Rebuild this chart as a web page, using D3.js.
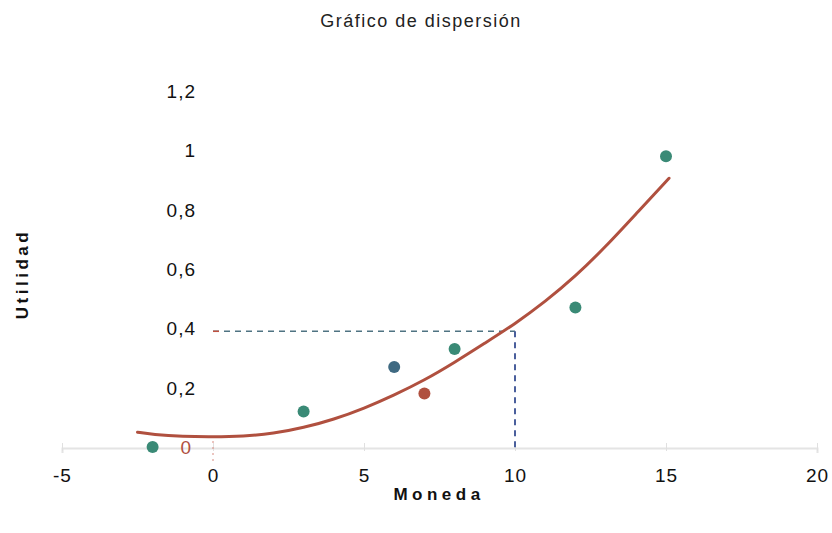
<!DOCTYPE html>
<html>
<head>
<meta charset="utf-8">
<script src="https://cdn.jsdelivr.net/npm/d3@7"></script>
<style>
  body { margin: 0; background: #fff; }
  text { font-family: "Liberation Sans", Arial, sans-serif; }
</style>
</head>
<body>
<div id="chart"></div>
<script>
// scatter points
const pointX = [-2, 3, 6, 7, 8, 12, 15];
const pointY = [0, 0.12, 0.27, 0.18, 0.33, 0.47, 0.98];
const pointColor = ["#3a8a76", "#3a8a76", "#3f6a82", "#b0503f", "#3a8a76", "#3a8a76", "#3a8a76"];

// trend curve
const curveX = [-2.5, -2, -1, 0, 1, 2, 3, 4, 5, 6, 7, 8, 9, 10, 11, 12, 13, 14, 15.1];
const curveY = [0.05, 0.042, 0.035, 0.034, 0.036, 0.045, 0.065, 0.093, 0.13, 0.175, 0.225, 0.285, 0.35, 0.415, 0.49, 0.575, 0.675, 0.785, 0.906];

// reference lines
const refX = 10;
const refY = 0.39;

const xTicks = [-5, 0, 5, 10, 15, 20];
const yTicks = [0, 0.2, 0.4, 0.6, 0.8, 1, 1.2];
const yLabels = ["0", "0,2", "0,4", "0,6", "0,8", "1", "1,2"];

const W = 832, H = 533;
const svg = d3.select("#chart").append("svg")
  .attr("width", W).attr("height", H);

const x = d3.scaleLinear().domain([-5, 20]).range([62, 817]);
const y = d3.scaleLinear().domain([0, 1.2]).range([447, 91]);

// title
svg.append("text")
  .attr("x", 421).attr("y", 27)
  .attr("text-anchor", "middle")
  .style("font-size", "18px")
  .style("letter-spacing", "1.5px")
  .attr("fill", "#222")
  .text("Gráfico de dispersión");

// x axis
const xAxis = svg.append("g")
  .attr("transform", `translate(0,${y(0) + 1})`)
  .call(d3.axisBottom(x).tickValues(xTicks).tickSize(5).tickFormat(d => d));
xAxis.select(".domain").attr("stroke", "#e4e4e4").attr("stroke-width", 2);
xAxis.selectAll(".tick line").attr("stroke", "#e0e0e0").attr("y1", -5).attr("y2", 3);
xAxis.selectAll(".tick text")
  .attr("y", 27).attr("dy", "0.35em")
  .style("font-size", "19px")
  .style("letter-spacing", "1px")
  .attr("fill", "#111");

// y labels (no axis line)
svg.append("g").selectAll("text")
  .data(yTicks)
  .enter().append("text")
  .attr("x", (d, i) => i === 0 ? 192 : 196)
  .attr("y", d => y(d) + 7)
  .attr("text-anchor", "end")
  .style("font-size", "19px")
  .style("letter-spacing", "1px")
  .attr("fill", (d, i) => i === 0 ? "#b0503f" : "#111")
  .text((d, i) => yLabels[i]);

// axis titles
svg.append("text")
  .attr("x", 439).attr("y", 500)
  .attr("text-anchor", "middle")
  .style("font-size", "17px")
  .style("font-weight", "bold")
  .style("letter-spacing", "4.5px")
  .attr("fill", "#111")
  .text("Moneda");

svg.append("text")
  .attr("transform", "translate(28,274) rotate(-90)")
  .attr("text-anchor", "middle")
  .style("font-size", "17px")
  .style("font-weight", "bold")
  .style("letter-spacing", "3.5px")
  .attr("fill", "#111")
  .text("Utilidad");

// faint dotted tick at zero
svg.append("line")
  .attr("x1", x(0)).attr("x2", x(0))
  .attr("y1", y(0) - 6).attr("y2", y(0) + 14)
  .attr("stroke", "#d88a80").attr("stroke-width", 1)
  .attr("stroke-dasharray", "2,4");

// reference dashed lines
svg.append("line")
  .attr("x1", x(0)).attr("x2", x(refX))
  .attr("y1", y(refY)).attr("y2", y(refY))
  .attr("stroke", "#4f7382").attr("stroke-width", 1.5)
  .attr("stroke-dasharray", "6,5");
svg.append("line")
  .attr("x1", x(0)).attr("x2", x(0) + 6)
  .attr("y1", y(refY)).attr("y2", y(refY))
  .attr("stroke", "#c0503f").attr("stroke-width", 1.5);
svg.append("line")
  .attr("x1", x(refX)).attr("x2", x(refX))
  .attr("y1", y(refY)).attr("y2", y(0) + 2)
  .attr("stroke", "#4a5f9c").attr("stroke-width", 2)
  .attr("stroke-dasharray", "6,5");

// trend curve
const curve = curveX.map((d, i) => [d, curveY[i]]);
svg.append("path")
  .datum(curve)
  .attr("fill", "none")
  .attr("stroke", "#b0503f")
  .attr("stroke-width", 3)
  .attr("stroke-linecap", "round")
  .attr("d", d3.line().x(d => x(d[0])).y(d => y(d[1])).curve(d3.curveBasis));

// points
svg.append("g").selectAll("circle")
  .data(pointX)
  .enter().append("circle")
  .attr("cx", d => x(d))
  .attr("cy", (d, i) => y(pointY[i]))
  .attr("r", 6)
  .attr("fill", (d, i) => pointColor[i]);
</script>
</body>
</html>
